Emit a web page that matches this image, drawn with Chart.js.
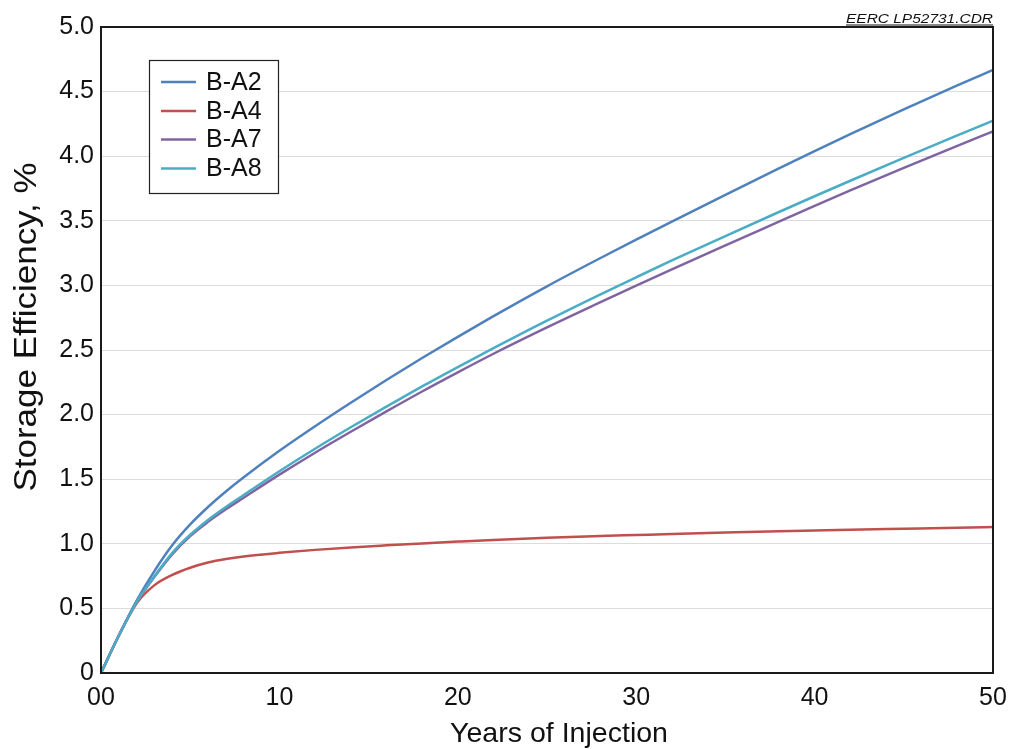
<!DOCTYPE html>
<html><head><meta charset="utf-8">
<script src="https://cdn.jsdelivr.net/npm/chart.js@4"></script>
<style>html,body{margin:0;padding:0;background:#fff;overflow:hidden}#wrap{width:1009px;height:749px;position:relative}</style>
</head><body><div id="wrap"><canvas id="c" width="1009" height="749"></canvas></div>
<script>
const years = [0,1,2,3,4,5,6,7,8,10,12,14,16,18,20,22,25,28,30,32,35,38,40,42,45,48,50];
const seriesNames = ['B-A2','B-A4','B-A7','B-A8'];
const bA2 = [0,0.29,0.56,0.79,0.99,1.15,1.285,1.405,1.515,1.72,1.91,2.092,2.268,2.438,2.602,2.762,2.993,3.212,3.354,3.494,3.701,3.905,4.039,4.171,4.363,4.548,4.668];
const bA4 = [0,0.29,0.54,0.68,0.76,0.815,0.855,0.882,0.902,0.93,0.953,0.972,0.988,1.003,1.017,1.03,1.046,1.06,1.068,1.076,1.087,1.097,1.103,1.109,1.117,1.125,1.13];
const bA7 = [0,0.29,0.55,0.745,0.92,1.06,1.17,1.267,1.357,1.535,1.705,1.867,2.025,2.179,2.327,2.471,2.675,2.87,2.998,3.124,3.31,3.493,3.615,3.735,3.909,4.08,4.192];
const bA8 = [0,0.29,0.55,0.75,0.93,1.07,1.185,1.285,1.378,1.562,1.736,1.902,2.062,2.218,2.368,2.514,2.727,2.931,3.063,3.193,3.382,3.568,3.69,3.81,3.987,4.161,4.275];
const xTitle = 'Years of Injection';
const yTitle = 'Storage Efficiency, %';
const fileTag = 'EERC LP52731.CDR';
const colors = ['#4F81BD','#C0504D','#8064A2','#4BACC6'];
const FONT = '"Liberation Sans", Arial, sans-serif';

const seriesValues = [bA2, bA4, bA7, bA8];
const datasets = seriesNames.map((n, i) => ({
  label: n,
  data: years.map((x, j) => ({x: x, y: seriesValues[i][j]})),
  borderColor: colors[i],
  backgroundColor: colors[i],
  borderWidth: 2.5,
  pointRadius: 0,
  cubicInterpolationMode: 'monotone',
  fill: false,
  order: i === 3 ? 0 : 4 - i
}));

function drawStretched(ctx, text, targetW) {
  const w = ctx.measureText(text).width;
  ctx.save();
  ctx.scale(targetW / w, 1);
  ctx.fillText(text, 0, 0);
  ctx.restore();
  return w;
}

const decor = {
  id: 'decor',
  afterDatasetsDraw(chart) {
    const {ctx, chartArea: a} = chart;
    ctx.save();
    ctx.strokeStyle = '#1a1a1a';
    ctx.lineWidth = 2;
    ctx.strokeRect(a.left, a.top, a.right - a.left, a.bottom - a.top);
    ctx.restore();
  },
  afterDraw(chart) {
    const {ctx} = chart;
    ctx.save();
    // legend box
    const bx = 149, by = 60, bw = 129, bh = 133;
    ctx.fillStyle = '#fff';
    ctx.fillRect(bx, by, bw, bh);
    ctx.strokeStyle = '#222';
    ctx.lineWidth = 1.2;
    ctx.strokeRect(bx + 0.5, by + 0.5, bw, bh);
    const rows = [82, 111, 139.5, 168.5];
    ctx.font = '25px ' + FONT;
    ctx.textBaseline = 'middle';
    ctx.textAlign = 'left';
    chart.data.datasets.forEach((d, i) => {
      ctx.strokeStyle = d.borderColor;
      ctx.lineWidth = 2.5;
      ctx.beginPath();
      ctx.moveTo(161, rows[i]);
      ctx.lineTo(196, rows[i]);
      ctx.stroke();
      ctx.fillStyle = '#111';
      ctx.fillText(d.label, 206, rows[i] + 1);
    });
    // axis titles
    ctx.fillStyle = '#111';
    ctx.textAlign = 'center';
    ctx.textBaseline = 'middle';
    ctx.font = '28px ' + FONT;
    ctx.save();
    ctx.translate(559, 734);
    drawStretched(ctx, xTitle, 218);
    ctx.restore();
    ctx.font = '31px ' + FONT;
    ctx.save();
    ctx.translate(27, 327);
    ctx.rotate(-Math.PI / 2);
    drawStretched(ctx, yTitle, 329);
    ctx.restore();
    // file tag
    ctx.save();
    ctx.font = 'italic 13px ' + FONT;
    const w = ctx.measureText(fileTag).width;
    ctx.translate(993, 23);
    ctx.scale(147 / w, 1);
    ctx.textAlign = 'right';
    ctx.textBaseline = 'alphabetic';
    ctx.fillStyle = '#111';
    ctx.fillText(fileTag, 0, 0);
    ctx.fillRect(-w, 1.5, w, 1);
    ctx.restore();
    ctx.restore();
  }
};

new Chart(document.getElementById('c'), {
  type: 'line',
  data: {datasets},
  options: {
    responsive: false,
    animation: false,
    devicePixelRatio: 1,
    layout: {padding: {top: 27, right: 16, left: 0, bottom: 0}},
    plugins: {legend: {display: false}, tooltip: {enabled: false}},
    scales: {
      x: {
        type: 'linear', min: 0, max: 50,
        afterFit(s) { s.height = 76; s.paddingLeft = 0; s.paddingRight = 0; },
        grid: {display: false, drawTicks: false},
        border: {display: false},
        ticks: {stepSize: 10, padding: 10, color: '#111', font: {size: 25, family: FONT},
          callback: v => v === 0 ? '00' : String(v)}
      },
      y: {
        min: 0, max: 5,
        afterFit(s) { s.width = 101; s.paddingTop = 0; s.paddingBottom = 0; },
        grid: {color: '#dcdcdc', lineWidth: 1, drawTicks: false},
        border: {display: false},
        ticks: {stepSize: 0.5, padding: 7, color: '#111', font: {size: 25, family: FONT},
          callback: v => v === 0 ? '0' : v.toFixed(1)}
      }
    }
  },
  plugins: [decor]
});
</script></body></html>
